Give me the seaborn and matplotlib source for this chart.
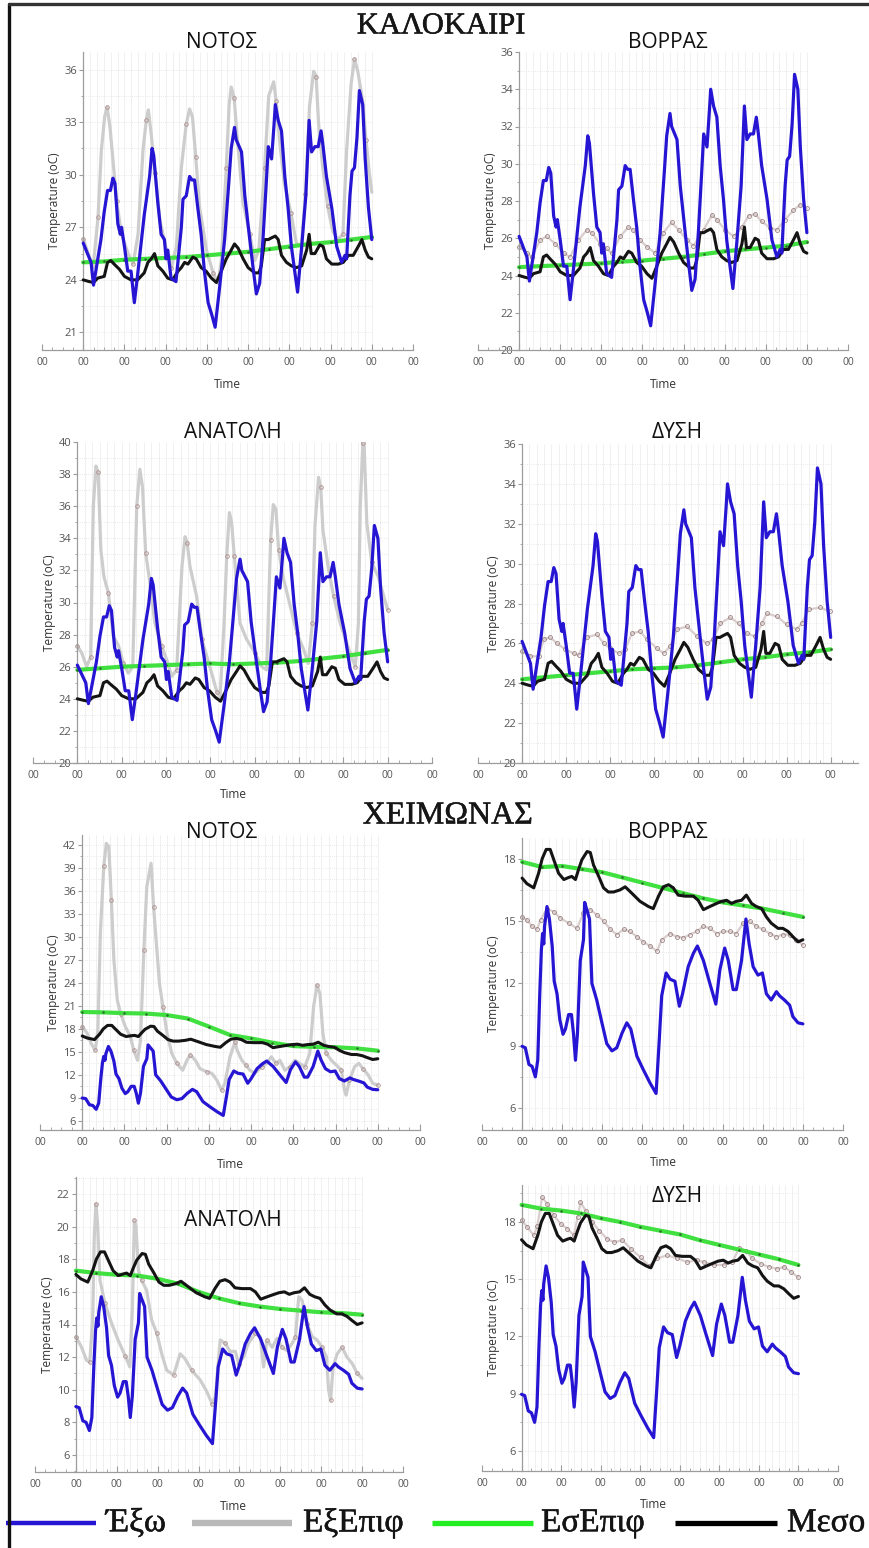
import numpy as np
import seaborn as sns
import matplotlib.pyplot as plt
import matplotlib.patheffects as pe
from matplotlib.lines import Line2D
from matplotlib.patches import Rectangle
from matplotlib.ticker import FixedLocator, MultipleLocator

W, H = 869, 1548

# ---------------- data (days since start, temperature oC) ----------------
# outside temperature, same in every summer panel
S_OUT_T = [0.0, 0.19, 0.25, 0.43, 0.51, 0.59, 0.66, 0.72, 0.77, 0.84,
           0.90, 0.93, 1.0, 1.08, 1.16, 1.24, 1.32, 1.48, 1.61, 1.67,
           1.71, 1.81, 1.89, 1.97, 2.01, 2.05, 2.13, 2.25, 2.38, 2.42,
           2.50, 2.58, 2.64, 2.70, 2.78, 2.86, 2.94, 3.03, 3.12, 3.20,
           3.31, 3.43, 3.53, 3.59, 3.67, 3.71, 3.84, 3.92, 4.04, 4.12,
           4.20, 4.28, 4.36, 4.44, 4.49, 4.57, 4.63, 4.66, 4.73, 4.81,
           4.89, 4.97, 5.05, 5.13, 5.20, 5.30, 5.40, 5.48, 5.54, 5.62,
           5.70, 5.77, 5.82, 5.90, 6.03, 6.15, 6.27, 6.35, 6.39, 6.47,
           6.52, 6.58, 6.64, 6.70, 6.78, 6.84, 6.92, 7.0]
S_OUT = [26.1, 25.0, 23.7, 26.3, 27.9, 29.1, 29.1, 29.8, 29.5, 27.2,
         26.6, 27.0, 25.9, 24.5, 24.5, 22.7, 24.3, 27.7, 29.9, 31.5,
         31.1, 28.4, 26.6, 26.3, 25.2, 25.7, 24.1, 23.9, 27.0, 28.6,
         28.8, 29.9, 29.7, 29.7, 28.1, 26.6, 24.5, 22.7, 22.0, 21.3,
         23.6, 26.3, 29.5, 31.5, 32.7, 32.0, 31.3, 28.8, 26.3, 24.7,
         23.2, 23.8, 26.3, 29.5, 31.6, 30.9, 32.9, 34.0, 33.1, 32.5,
         29.9, 28.1, 25.9, 24.5, 23.3, 25.9, 28.8, 33.1, 31.3, 31.6,
         31.6, 32.5, 31.6, 29.9, 28.1, 25.9, 25.0, 25.4, 25.2, 28.8,
         30.2, 30.4, 32.1, 34.8, 34.0, 30.9, 28.1, 26.3]

# mean indoor temperature, summer
S_MID_T = [0.0, 0.15, 0.25, 0.35, 0.51, 0.59, 0.67, 0.75, 0.88, 1.0,
           1.16, 1.32, 1.48, 1.57, 1.65, 1.73, 1.81, 1.93, 2.05, 2.17,
           2.30, 2.38, 2.46, 2.54, 2.66, 2.74, 2.86, 2.98, 3.11, 3.23,
           3.35, 3.47, 3.59, 3.67, 3.76, 3.88, 4.0, 4.16, 4.26, 4.32,
           4.40, 4.49, 4.57, 4.66, 4.73, 4.81, 4.93, 5.05, 5.17, 5.30,
           5.42, 5.48, 5.53, 5.62, 5.74, 5.82, 5.90, 6.03, 6.19, 6.31,
           6.43, 6.55, 6.67, 6.76, 6.84, 6.92, 7.0]
S_MID = [24.0, 23.9, 23.85, 24.1, 24.2, 25.0, 25.1, 24.9, 24.6, 24.2,
         24.0, 24.0, 24.4, 25.0, 25.2, 25.5, 24.8, 24.5, 24.1, 24.0,
         24.5, 24.7, 25.0, 24.9, 25.3, 25.2, 24.7, 24.5, 24.1, 23.85,
         24.5, 25.2, 25.7, 26.05, 25.8, 25.2, 24.7, 24.4, 24.4, 24.8,
         26.3, 26.3, 26.4, 26.5, 26.3, 25.4, 25.0, 24.8, 24.7, 24.8,
         25.7, 26.6, 25.5, 25.5, 26.0, 25.9, 25.2, 24.9, 24.9, 25.0,
         25.4, 25.4, 25.9, 26.3, 25.7, 25.3, 25.2]

# outside temperature, winter
W_OUT_T = [0.0, 0.08, 0.17, 0.25, 0.33, 0.39, 0.44, 0.48, 0.51, 0.54,
           0.56, 0.62, 0.68, 0.75, 0.80, 0.87, 0.94, 1.02, 1.08, 1.16,
           1.23, 1.28, 1.33, 1.38, 1.45, 1.53, 1.56, 1.62, 1.68, 1.74,
           1.86, 1.99, 2.11, 2.24, 2.36, 2.49, 2.61, 2.71, 2.86, 3.02,
           3.19, 3.34, 3.42, 3.48, 3.59, 3.69, 3.81, 3.92, 4.0, 4.14,
           4.27, 4.37, 4.52, 4.68, 4.83, 4.93, 5.05, 5.14, 5.26, 5.34,
           5.47, 5.58, 5.66, 5.76, 5.88, 5.99, 6.09, 6.21, 6.34, 6.42,
           6.54, 6.67, 6.75, 6.88, 7.0]
W_OUT = [8.97, 8.9, 8.1, 8.0, 7.5, 8.3, 11.5, 13.6, 14.4, 13.9,
         14.75, 15.7, 15.1, 13.8, 12.1, 11.5, 10.25, 9.55, 9.8, 10.5,
         10.5, 9.6, 8.3, 9.6, 13.1, 14.1, 15.9, 15.5, 15.1, 12.0,
         11.2, 10.1, 9.1, 8.75, 8.9, 9.6, 10.1, 9.8, 8.5, 7.85,
         7.2, 6.7, 9.3, 11.4, 12.5, 12.2, 12.1, 10.9, 11.5, 12.8,
         13.45, 13.8, 13.1, 12.0, 11.0, 12.65, 13.7, 13.1, 11.7, 11.7,
         13.1, 15.1, 13.9, 12.8, 12.4, 12.5, 11.5, 11.2, 11.6, 11.4,
         11.2, 10.95, 10.4, 10.1, 10.05]

# mean indoor temperature, winter
W_MID_T = [0.0, 0.12, 0.29, 0.41, 0.50, 0.60, 0.70, 0.79, 0.91, 1.04,
           1.16, 1.24, 1.33, 1.41, 1.49, 1.62, 1.70, 1.78, 1.91, 2.03,
           2.15, 2.28, 2.44, 2.57, 2.73, 2.94, 3.15, 3.27, 3.40, 3.52,
           3.65, 3.77, 3.89, 4.06, 4.27, 4.39, 4.52, 4.68, 4.85, 4.97,
           5.10, 5.22, 5.34, 5.47, 5.59, 5.72, 5.84, 5.97, 6.09, 6.21,
           6.38, 6.50, 6.63, 6.75, 6.88, 7.0]
W_MID = [17.07, 16.8, 16.6, 17.3, 18.0, 18.45, 18.45, 17.95, 17.3, 17.0,
         17.1, 17.15, 17.0, 17.5, 17.95, 18.35, 18.3, 17.7, 17.15, 16.6,
         16.4, 16.4, 16.5, 16.65, 16.35, 15.95, 15.7, 15.6, 16.2, 16.65,
         16.75, 16.6, 16.25, 16.2, 16.2, 16.0, 15.55, 15.7, 15.85, 15.95,
         16.0, 15.85, 15.95, 16.0, 16.25, 15.85, 15.7, 15.6, 15.2, 14.9,
         14.65, 14.65, 14.5, 14.25, 14.0, 14.1]

# inner surface temperature, sampled every half day
IN_T = [0.0, 0.5, 1.0, 1.5, 2.0, 2.5, 3.0, 3.5, 4.0, 4.5, 5.0, 5.5, 6.0, 6.5, 7.0]
S_NOTOS_IN = [25.0, 25.05, 25.15, 25.2, 25.25, 25.3, 25.4, 25.5, 25.6, 25.75, 25.9, 26.05, 26.15, 26.3, 26.45]
S_VORRAS_IN = [24.45, 24.5, 24.55, 24.6, 24.65, 24.75, 24.8, 24.9, 25.0, 25.15, 25.3, 25.4, 25.5, 25.6, 25.8]
S_ANATOLI_IN = [25.8, 25.9, 26.0, 26.05, 26.1, 26.15, 26.2, 26.15, 26.2, 26.25, 26.35, 26.5, 26.65, 26.85, 27.05]
S_DYSI_IN = [24.2, 24.3, 24.4, 24.5, 24.6, 24.7, 24.75, 24.8, 24.9, 25.05, 25.2, 25.3, 25.45, 25.55, 25.7]
W_NOTOS_IN = [20.2, 20.15, 20.05, 20.0, 19.8, 19.35, 18.3, 17.2, 16.75, 16.2, 15.75, 15.65, 15.6, 15.45, 15.15]
W_VORRAS_IN = [17.85, 17.6, 17.65, 17.5, 17.35, 17.1, 16.85, 16.6, 16.35, 16.1, 15.9, 15.75, 15.6, 15.4, 15.2]
W_ANATOLI_IN = [17.3, 17.15, 17.05, 17.0, 16.8, 16.5, 16.0, 15.6, 15.3, 15.1, 14.95, 14.85, 14.75, 14.7, 14.6]
W_DYSI_IN = [18.9, 18.7, 18.6, 18.45, 18.2, 18.0, 17.75, 17.55, 17.35, 17.05, 16.8, 16.55, 16.3, 16.05, 15.75]

# outer surface temperature
S_NOTOS_EX_T = [0, 0.12, 0.24, 0.36, 0.44, 0.52, 0.58, 0.65, 0.73, 0.81,
                0.93, 1.09, 1.21, 1.33, 1.45, 1.53, 1.58, 1.65, 1.74, 1.86,
                2.02, 2.14, 2.26, 2.38, 2.50, 2.58, 2.65, 2.73, 2.82, 2.99,
                3.15, 3.27, 3.35, 3.47, 3.54, 3.59, 3.66, 3.73, 3.87, 4.04,
                4.16, 4.26, 4.40, 4.50, 4.62, 4.68, 4.76, 4.88, 5.04, 5.17,
                5.29, 5.39, 5.49, 5.59, 5.65, 5.71, 5.81, 5.93, 6.05, 6.17,
                6.30, 6.39, 6.50, 6.58, 6.66, 6.78, 6.86, 6.94, 7.0]
S_NOTOS_EX = [26.35, 25.5, 24.7, 27.6, 31.4, 33.3, 33.85, 32.7, 30.6, 28.5,
              26.6, 25.5, 24.9, 26.6, 31.4, 33.1, 33.7, 32.3, 30.1, 27.4,
              25.7, 24.7, 25.9, 30.4, 32.9, 33.75, 33.3, 31.0, 28.2, 25.7,
              24.4, 23.8, 25.1, 30.4, 34.0, 35.0, 34.4, 32.3, 28.5, 26.6,
              25.1, 25.7, 30.4, 34.5, 35.3, 34.2, 32.0, 29.5, 27.8, 26.1,
              25.9, 28.9, 33.9, 35.9, 35.6, 32.9, 30.4, 28.2, 26.8, 26.3,
              26.6, 31.4, 35.2, 36.6, 35.9, 34.2, 32.0, 30.1, 29.0]

S_VORRAS_EX_T = [0, 0.19, 0.31, 0.51, 0.67, 0.88, 1.08, 1.24, 1.44, 1.65,
                 1.77, 1.97, 2.13, 2.25, 2.46, 2.66, 2.78, 2.94, 3.11, 3.31,
                 3.51, 3.71, 3.88, 4.08, 4.24, 4.49, 4.69, 4.81, 5.01, 5.22,
                 5.42, 5.58, 5.74, 5.90, 6.11, 6.27, 6.47, 6.67, 6.84, 7.0]
S_VORRAS_EX = [25.55, 25.2, 25.0, 25.9, 26.1, 25.7, 25.2, 25.0, 25.9, 26.45,
               26.3, 25.7, 25.45, 25.2, 26.1, 26.6, 26.45, 25.9, 25.55, 25.2,
               26.3, 26.85, 26.45, 25.9, 25.6, 26.45, 27.25, 27.0, 26.45, 26.1,
               26.6, 27.2, 27.3, 26.9, 26.55, 26.45, 27.0, 27.5, 27.8, 27.6]

S_ANATOLI_EX_T = [0, 0.1, 0.21, 0.30, 0.36, 0.42, 0.47, 0.53, 0.60, 0.70,
                  0.81, 0.93, 1.04, 1.15, 1.25, 1.34, 1.41, 1.47, 1.54, 1.64,
                  1.75, 1.90, 2.02, 2.13, 2.24, 2.36, 2.43, 2.48, 2.54, 2.69,
                  2.81, 2.92, 3.03, 3.15, 3.22, 3.31, 3.37, 3.43, 3.48, 3.54,
                  3.67, 3.82, 4.01, 4.16, 4.27, 4.36, 4.42, 4.48, 4.54, 4.64,
                  4.80, 4.95, 5.10, 5.21, 5.30, 5.36, 5.44, 5.49, 5.54, 5.67,
                  5.78, 5.93, 6.12, 6.27, 6.34, 6.38, 6.44, 6.47, 6.53, 6.64,
                  6.79, 6.91, 7.0]
S_ANATOLI_EX = [27.3, 26.85, 26.0, 26.6, 36.0, 38.5, 38.1, 33.3, 31.6, 30.6,
                27.9, 27.3, 26.2, 25.6, 26.0, 36.0, 38.3, 37.2, 33.1, 31.2,
                28.7, 27.3, 26.4, 25.4, 25.8, 32.25, 34.1, 33.7, 32.25, 30.4,
                27.7, 26.65, 25.6, 24.4, 24.15, 28.7, 32.9, 35.6, 35.0, 32.9,
                28.7, 27.7, 26.85, 26.0, 25.8, 33.9, 36.1, 35.8, 33.3, 31.6,
                29.8, 28.1, 27.1, 26.2, 28.7, 34.75, 37.8, 37.2, 34.5, 32.0,
                30.4, 28.7, 27.1, 26.0, 28.7, 35.8, 39.95, 39.7, 34.95, 32.5,
                31.6, 30.4, 29.55]

S_DYSI_EX_T = [0, 0.19, 0.38, 0.49, 0.64, 0.79, 0.98, 1.17, 1.28, 1.47,
               1.70, 1.85, 2.00, 2.19, 2.34, 2.49, 2.68, 2.83, 3.06, 3.21,
               3.36, 3.51, 3.74, 3.97, 4.19, 4.34, 4.49, 4.72, 4.91, 5.10,
               5.29, 5.44, 5.55, 5.78, 6.00, 6.23, 6.34, 6.50, 6.76, 6.98]
S_DYSI_EX = [25.6, 25.35, 25.35, 26.2, 26.3, 26.0, 25.7, 25.5, 25.4, 26.3,
             26.45, 26.0, 25.75, 25.5, 25.7, 26.5, 26.6, 26.2, 25.75, 25.5,
             25.85, 26.7, 26.85, 26.35, 26.0, 26.2, 27.0, 27.3, 27.0, 26.5,
             26.35, 27.0, 27.5, 27.35, 26.95, 26.7, 27.0, 27.7, 27.8, 27.6]

W_NOTOS_EX_T = [0, 0.12, 0.21, 0.31, 0.37, 0.43, 0.51, 0.57, 0.63, 0.69,
                0.75, 0.83, 0.91, 1.02, 1.14, 1.22, 1.31, 1.38, 1.46, 1.53,
                1.63, 1.69, 1.75, 1.83, 1.91, 2.01, 2.12, 2.24, 2.38, 2.48,
                2.56, 2.68, 2.79, 2.95, 3.07, 3.19, 3.30, 3.38, 3.50, 3.62,
                3.67, 3.78, 3.88, 3.97, 4.09, 4.25, 4.37, 4.48, 4.59, 4.68,
                4.80, 4.92, 5.04, 5.15, 5.27, 5.39, 5.48, 5.56, 5.63, 5.70,
                5.78, 5.90, 6.02, 6.14, 6.21, 6.25, 6.33, 6.45, 6.55, 6.65,
                6.77, 6.88, 7.0]
W_NOTOS_EX = [18.3, 17.4, 16.1, 15.2, 17.8, 30.5, 39.2, 42.2, 41.8, 34.8,
              27.0, 21.75, 20.0, 18.3, 17.0, 15.2, 13.9, 16.5, 28.3, 36.6,
              39.6, 33.9, 29.6, 23.9, 20.9, 17.4, 14.8, 13.5, 12.6, 13.9,
              14.6, 13.9, 12.8, 12.4, 12.2, 11.3, 10.0, 10.9, 14.35, 16.3,
              15.2, 13.9, 13.25, 12.6, 12.2, 13.05, 13.5, 14.35, 13.5, 13.9,
              12.6, 13.05, 13.9, 13.5, 13.05, 14.8, 20.9, 23.7, 22.6, 17.4,
              14.8, 13.9, 13.25, 12.6, 10.0, 9.35, 11.3, 13.05, 13.5, 12.8,
              12.0, 10.9, 10.65]

W_VORRAS_EX_T = [0, 0.12, 0.25, 0.37, 0.46, 0.62, 0.79, 0.95, 1.16, 1.37,
                 1.53, 1.70, 1.86, 2.03, 2.20, 2.36, 2.53, 2.69, 2.86, 3.02,
                 3.19, 3.36, 3.48, 3.69, 3.85, 4.02, 4.18, 4.35, 4.52, 4.68,
                 4.85, 5.01, 5.18, 5.34, 5.51, 5.67, 5.84, 6.0, 6.17, 6.34,
                 6.50, 6.67, 6.83, 7.0]
W_VORRAS_EX = [15.2, 15.05, 14.75, 14.6, 15.05, 15.6, 15.45, 15.15, 14.9, 14.65,
               15.4, 15.55, 15.3, 15.0, 14.6, 14.35, 14.6, 14.5, 14.25, 14.0,
               13.8, 13.55, 14.1, 14.4, 14.25, 14.2, 14.35, 14.5, 14.75, 14.65,
               14.4, 14.5, 14.5, 14.4, 14.9, 15.0, 14.75, 14.6, 14.4, 14.25,
               14.35, 14.35, 14.1, 13.85]

W_ANATOLI_EX_T = [0, 0.14, 0.26, 0.34, 0.41, 0.45, 0.49, 0.53, 0.59, 0.71,
                  0.87, 1.04, 1.20, 1.32, 1.38, 1.43, 1.47, 1.53, 1.61, 1.73,
                  1.85, 1.98, 2.10, 2.22, 2.39, 2.55, 2.67, 2.83, 3.04, 3.20,
                  3.33, 3.41, 3.53, 3.65, 3.77, 3.90, 3.98, 4.10, 4.22, 4.39,
                  4.51, 4.59, 4.67, 4.80, 4.92, 5.04, 5.16, 5.29, 5.37, 5.45,
                  5.53, 5.65, 5.78, 5.90, 6.02, 6.13, 6.18, 6.23, 6.29, 6.39,
                  6.51, 6.63, 6.76, 6.88, 7.0]
W_ANATOLI_EX = [13.25, 12.6, 11.8, 11.7, 14.3, 19.4, 21.4, 20.2, 16.7, 15.3,
                14.1, 13.0, 12.1, 11.4, 14.9, 20.4, 20.0, 17.3, 16.7, 16.1,
                14.3, 13.45, 12.2, 11.2, 10.9, 12.2, 11.9, 11.2, 10.6, 9.9,
                9.15, 9.55, 13.05, 12.85, 12.35, 12.35, 11.6, 12.0, 12.85, 13.45,
                13.25, 11.4, 13.05, 12.6, 13.15, 12.6, 12.4, 12.85, 13.25, 15.7,
                15.5, 14.05, 13.25, 13.05, 12.6, 12.0, 10.0, 9.35, 11.4, 12.2,
                12.6, 12.0, 11.6, 11.0, 10.7]

W_DYSI_EX_T = [0, 0.14, 0.31, 0.40, 0.52, 0.65, 0.82, 0.99, 1.16, 1.32,
               1.42, 1.49, 1.62, 1.79, 1.96, 2.17, 2.34, 2.55, 2.76, 3.01,
               3.22, 3.43, 3.68, 3.94, 4.19, 4.44, 4.61, 4.87, 5.12, 5.33,
               5.50, 5.67, 5.83, 6.05, 6.26, 6.47, 6.64, 6.80, 7.0]
W_DYSI_EX = [18.1, 17.75, 17.3, 17.8, 19.3, 18.95, 18.35, 17.9, 17.65, 17.3,
             18.25, 19.05, 18.6, 18.0, 17.55, 17.1, 16.95, 17.05, 16.6, 16.15,
             15.7, 16.1, 16.25, 16.1, 15.9, 16.0, 15.9, 15.75, 15.75, 15.9,
             16.65, 16.5, 16.1, 15.8, 15.65, 15.55, 15.65, 15.4, 15.1]

X_TICKS = [-1, 0, 1, 2, 3, 4, 5, 6, 7, 8]
LEGEND_LABELS = ["Έξω", "ΕξΕπιφ", "ΕσΕπιφ", "Μεσο"]

# ---------------- panels ----------------
PANELS = [
    dict(title="ΝΟΤΟΣ", season="S", ex=(S_NOTOS_EX_T, S_NOTOS_EX), inn=S_NOTOS_IN,
         ylim=(20, 37), yticks=[21, 24, 27, 30, 33, 36], box=(42, 413, 52, 350),
         xmax=8, title_xy=(222, 42), time_xy=(227, 384), heavy=True),
    dict(title="ΒΟΡΡΑΣ", season="S", ex=(S_VORRAS_EX_T, S_VORRAS_EX), inn=S_VORRAS_IN,
         ylim=(20, 36), yticks=list(range(20, 37, 2)), box=(478, 848, 52, 350),
         xmax=8, title_xy=(668, 42), time_xy=(663, 384), heavy=False),
    dict(title="ΑΝΑΤΟΛΗ", season="S", ex=(S_ANATOLI_EX_T, S_ANATOLI_EX), inn=S_ANATOLI_IN,
         ylim=(20, 40), yticks=list(range(20, 41, 2)), box=(33, 432, 442, 763),
         xmax=8, title_xy=(233, 432), time_xy=(233, 795), heavy=True),
    dict(title="ΔΥΣΗ", season="S", ex=(S_DYSI_EX_T, S_DYSI_EX), inn=S_DYSI_IN,
         ylim=(20, 36), yticks=list(range(20, 37, 2)), box=(478, 858, 444, 763),
         xmax=7.62, title_xy=(677, 432), time_xy=None, heavy=False),
    dict(title="ΝΟΤΟΣ", season="W", ex=(W_NOTOS_EX_T, W_NOTOS_EX), inn=W_NOTOS_IN,
         ylim=(4.8, 43.3), yticks=list(range(6, 43, 3)), box=(40, 420, 835, 1130),
         xmax=8, title_xy=(222, 832), time_xy=(230, 1165), heavy=True),
    dict(title="ΒΟΡΡΑΣ", season="W", ex=(W_VORRAS_EX_T, W_VORRAS_EX), inn=W_VORRAS_IN,
         ylim=(4.94, 19.0), yticks=[6, 9, 12, 15, 18], box=(482, 843, 838, 1130),
         xmax=8, title_xy=(668, 832), time_xy=(663, 1163), heavy=False),
    dict(title="ΑΝΑΤΟΛΗ", season="W", ex=(W_ANATOLI_EX_T, W_ANATOLI_EX), inn=W_ANATOLI_IN,
         ylim=(4.96, 23.04), yticks=list(range(6, 23, 2)), box=(35, 403, 1177, 1472),
         xmax=8, title_xy=(233, 1221), time_xy=(233, 1506), heavy=True),
    dict(title="ΔΥΣΗ", season="W", ex=(W_DYSI_EX_T, W_DYSI_EX), inn=W_DYSI_IN,
         ylim=(4.95, 19.94), yticks=[6, 9, 12, 15, 18], box=(482, 838, 1185, 1471),
         xmax=8, title_xy=(677, 1197), time_xy=(653, 1505), heavy=False),
]

BLUE = "#2616d4"
GREY = "#cdcdcd"
GREY_LIGHT = "#d9cdcd"
GREEN = "#3fe03f"
BLACK = "#141414"

sns.set_theme(style="white")
plt.rcParams['font.family'] = ['Open Sans', 'DejaVu Sans']

fig = plt.figure(figsize=(W / 100, H / 100), dpi=100, facecolor="white")


def fx(px):
    return px / W


def fy(py):
    return 1 - py / H


for p in PANELS:
    l, r, t, b = p["box"]
    ax = fig.add_axes([fx(l), fy(b), (r - l) / W, (b - t) / H])
    ax.set_facecolor("white")

    if p["season"] == "S":
        out_t, out_v, mid_t, mid_v = S_OUT_T, S_OUT, S_MID_T, S_MID
    else:
        out_t, out_v, mid_t, mid_v = W_OUT_T, W_OUT, W_MID_T, W_MID

    # faint background grid
    y0, y1 = p["ylim"]
    ax.vlines(np.arange(1 / 6, 7.01, 1 / 6), y0, y1, color="#eeeeee", lw=0.6, zorder=0)
    step = p["yticks"][1] - p["yticks"][0]
    ax.hlines(np.arange(p["yticks"][0], y1, step / 2), 0, 7, color="#e2e2e2",
              lw=0.6, linestyles=":", zorder=0)

    ex_t, ex_v = p["ex"]
    if p["heavy"]:
        sns.lineplot(x=ex_t, y=ex_v, ax=ax, color=GREY, linewidth=2.3,
                     marker="o", markersize=2.6, markerfacecolor="none",
                     markeredgecolor="#b08c8c", markeredgewidth=0.6, markevery=3,
                     zorder=2)
    else:
        sns.lineplot(x=ex_t, y=ex_v, ax=ax, color=GREY_LIGHT, linewidth=1.6,
                     marker="o", markersize=2.8, markerfacecolor="none",
                     markeredgecolor="#9a7f7f", markeredgewidth=0.6, markevery=1,
                     zorder=2)
    sns.lineplot(x=IN_T, y=p["inn"], ax=ax, color=GREEN, linewidth=3.0,
                 marker="o", markersize=1.8, markerfacecolor="#2d6b2d",
                 markeredgecolor="none", zorder=3)
    sns.lineplot(x=mid_t, y=mid_v, ax=ax, color=BLACK, linewidth=2.2, zorder=4)
    sns.lineplot(x=out_t, y=out_v, ax=ax, color=BLUE, linewidth=2.3, zorder=5)

    ax.set_xlim(-1, p["xmax"])
    ax.set_ylim(*p["ylim"])
    ax.xaxis.set_major_locator(FixedLocator(X_TICKS))
    ax.set_xticklabels(["00"] * len(X_TICKS))
    ax.xaxis.set_minor_locator(MultipleLocator(0.25))
    ax.yaxis.set_major_locator(FixedLocator(p["yticks"]))
    ax.yaxis.set_minor_locator(MultipleLocator(step / 2))

    for side in ("top", "right"):
        ax.spines[side].set_visible(False)
    ax.spines["left"].set_position(("data", 0))
    for side in ("left", "bottom"):
        ax.spines[side].set_color("#9c9c9c")
        ax.spines[side].set_linewidth(0.9)

    ax.tick_params(axis="x", which="major", direction="in", length=4, width=0.8,
                   colors="#9c9c9c", labelcolor="#555555", labelsize=7.5, pad=5,
                   bottom=True)
    ax.tick_params(axis="x", which="minor", direction="in", length=2, width=0.6,
                   colors="#9c9c9c", bottom=True)
    ax.tick_params(axis="y", which="major", direction="out", length=3, width=0.8,
                   colors="#9c9c9c", labelcolor="#555555", labelsize=8, pad=1.5,
                   left=True)
    ax.tick_params(axis="y", which="minor", direction="out", length=1.5, width=0.6,
                   colors="#9c9c9c", left=True)

    ax.set_ylabel("Temperature (oC)", fontsize=8.5, color="#333333", labelpad=2)
    ax.set_xlabel("")

    tx, ty = p["title_xy"]
    fig.text(fx(tx), fy(ty), p["title"], ha="center", va="center",
             fontsize=15, color="#111111")
    if p["time_xy"] is not None:
        tx, ty = p["time_xy"]
        fig.text(fx(tx), fy(ty), "Time", ha="center", va="center",
                 fontsize=8.5, color="#333333")

# season headers (slightly heavy serif, like the pasted captions)
serif = ['Liberation Serif', 'DejaVu Serif']
thick = [pe.withStroke(linewidth=0.35, foreground="#161616")]
fig.text(fx(441), fy(26), "ΚΑΛΟΚΑΙΡΙ", ha="center", va="center", fontsize=22,
         family=serif, color="#161616", path_effects=thick)
fig.text(fx(448), fy(816), "ΧΕΙΜΩΝΑΣ", ha="center", va="center", fontsize=23,
         family=serif, color="#161616", path_effects=thick)

# legend strip at the bottom
fig.patches.append(Rectangle((0, 0), 1, 1 - 1512 / H, transform=fig.transFigure,
                             facecolor="white", edgecolor="none", zorder=8))
legend_items = [
    (LEGEND_LABELS[0], BLUE, 3.2, 6, 96, 106),
    (LEGEND_LABELS[1], "#b9b9b9", 4.6, 192, 292, 303),
    (LEGEND_LABELS[2], "#22ee22", 3.8, 432, 533, 541),
    (LEGEND_LABELS[3], "#000000", 3.8, 675, 777, 787),
]
for label, color, lw, x0, x1, xt in legend_items:
    fig.add_artist(Line2D([fx(x0), fx(x1)], [fy(1523), fy(1523)], color=color,
                          lw=lw, solid_capstyle="butt", transform=fig.transFigure,
                          zorder=9))
    fig.text(fx(xt), fy(1523), label, ha="left", va="center", fontsize=24,
             family=serif, color="#141414", zorder=9, path_effects=thick)

# outer frame of the collage
fig.add_artist(Line2D([fx(9), fx(9)], [fy(4), 0], color="#111111", lw=2.4,
                      transform=fig.transFigure, zorder=10))
fig.add_artist(Line2D([fx(9), 1], [fy(4), fy(4)], color="#333333", lw=2.4,
                      transform=fig.transFigure, zorder=10))

fig.savefig("out.png", dpi=100, facecolor="white")
